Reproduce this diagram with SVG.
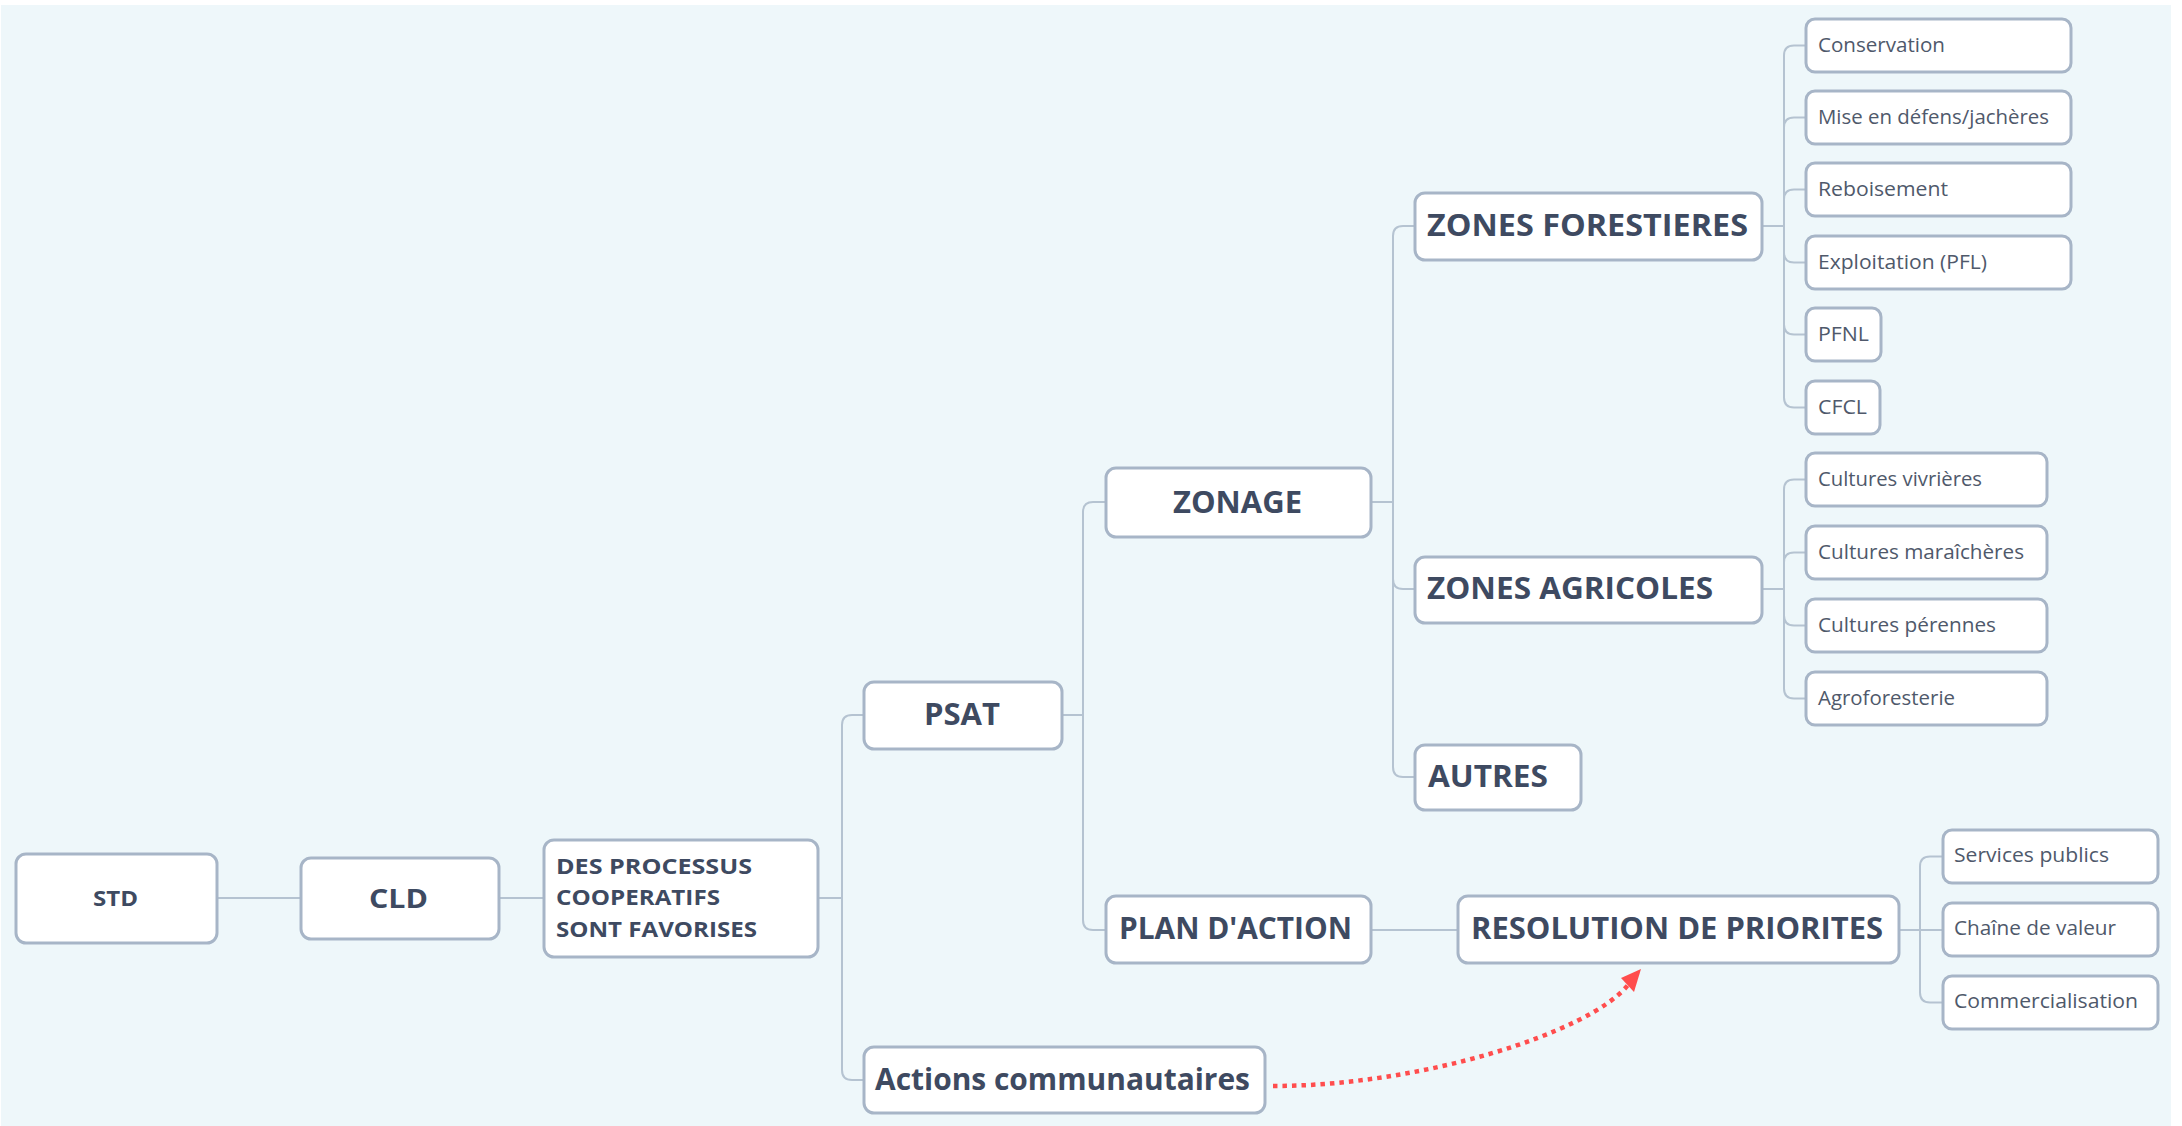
<svg xmlns="http://www.w3.org/2000/svg" width="2182" height="1126" viewBox="0 0 2182 1126">
<defs>
<style>
.bg{fill:#EEF7FA}
.box{fill:#FFFFFF;stroke:#A7B5C7;stroke-width:3}
.conn{fill:none;stroke:#B5C3D1;stroke-width:2}
.t{font-family:"Open Sans","Liberation Sans",sans-serif;font-weight:700;fill:#3E4A61}
.l{font-family:"Open Sans","Liberation Sans",sans-serif;font-weight:400;font-size:20px;fill:#4F596B}
.rel{fill:none;stroke:#FF4D4D;stroke-width:4.5;stroke-dasharray:4.5 5}
</style>
</defs>
<rect x="0" y="0" width="2182" height="1126" fill="#FFFFFF"/>
<rect class="bg" x="1" y="5" width="2170" height="1121"/>

<g id="connectors">
<path class="conn" d="M217,898 H301"/>
<path class="conn" d="M499,898 H544"/>
<path class="conn" d="M818,898 H842 M842,898 V725 Q842,715 852,715 H864 M842,898 V1070 Q842,1080 852,1080 H864"/>
<path class="conn" d="M1062,715 H1083 M1083,715 V512 Q1083,502 1093,502 H1106 M1083,715 V920 Q1083,930 1093,930 H1106"/>
<path class="conn" d="M1371,502 H1393 M1393,502 V236 Q1393,226 1403,226 H1415 M1393,502 V579 Q1393,589 1403,589 H1415 M1393,502 V767 Q1393,777 1403,777 H1415"/>
<path class="conn" d="M1762,226 H1784 M1784,226 V55.5 Q1784,45.5 1794,45.5 H1806 M1784,226 V127.5 Q1784,117.5 1794,117.5 H1806 M1784,226 V199.5 Q1784,189.5 1794,189.5 H1806 M1784,226 V252.5 Q1784,262.5 1794,262.5 H1806 M1784,226 V324.5 Q1784,334.5 1794,334.5 H1806 M1784,226 V397.5 Q1784,407.5 1794,407.5 H1806"/>
<path class="conn" d="M1762,589 H1784 M1784,589 V489.5 Q1784,479.5 1794,479.5 H1806 M1784,589 V562.5 Q1784,552.5 1794,552.5 H1806 M1784,589 V615.5 Q1784,625.5 1794,625.5 H1806 M1784,589 V688.5 Q1784,698.5 1794,698.5 H1806"/>
<path class="conn" d="M1371,930 H1458"/>
<path class="conn" d="M1899,930 H1943 M1920,930 V866.5 Q1920,856.5 1930,856.5 H1943 M1920,930 V992.5 Q1920,1002.5 1930,1002.5 H1943"/>
<path class="rel" d="M1273,1086 C1420,1086 1589,1033 1628,985"/>
<polygon points="1641,969 1621,978 1634,992" fill="#FF4D4D"/>
</g>

<g id="n-std"><rect class="box" x="16" y="854" width="201" height="89" rx="10"/><text class="t" x="93" y="906" font-size="21" textLength="45" lengthAdjust="spacingAndGlyphs">STD</text></g>
<g id="n-cld"><rect class="box" x="301" y="858" width="198" height="81" rx="10"/><text class="t" x="369" y="908" font-size="27" textLength="59" lengthAdjust="spacingAndGlyphs">CLD</text></g>
<g id="n-des"><rect class="box" x="544" y="840" width="274" height="117" rx="10"/>
<text class="t" x="556" y="874" font-size="21" textLength="196" lengthAdjust="spacingAndGlyphs">DES PROCESSUS</text>
<text class="t" x="556" y="905" font-size="21" textLength="164" lengthAdjust="spacingAndGlyphs">COOPERATIFS</text>
<text class="t" x="556" y="937" font-size="21" textLength="201" lengthAdjust="spacingAndGlyphs">SONT FAVORISES</text></g>
<g id="n-psat"><rect class="box" x="864" y="682" width="198" height="67" rx="10"/><text class="t" x="924" y="725" font-size="30" textLength="76" lengthAdjust="spacingAndGlyphs">PSAT</text></g>
<g id="n-actions"><rect class="box" x="864" y="1047" width="401" height="66" rx="10"/><text class="t" x="875" y="1090" font-size="30" textLength="375" lengthAdjust="spacingAndGlyphs">Actions communautaires</text></g>
<g id="n-zonage"><rect class="box" x="1106" y="468" width="265" height="69" rx="10"/><text class="t" x="1173" y="513" font-size="30" textLength="129" lengthAdjust="spacingAndGlyphs">ZONAGE</text></g>
<g id="n-plan"><rect class="box" x="1106" y="896" width="265" height="67" rx="10"/><text class="t" x="1119" y="939" font-size="30" textLength="233" lengthAdjust="spacingAndGlyphs">PLAN D'ACTION</text></g>
<g id="n-zf"><rect class="box" x="1415" y="193" width="347" height="67" rx="10"/><text class="t" x="1427" y="236" font-size="30" textLength="321" lengthAdjust="spacingAndGlyphs">ZONES FORESTIERES</text></g>
<g id="n-za"><rect class="box" x="1415" y="557" width="347" height="66" rx="10"/><text class="t" x="1427" y="599" font-size="30" textLength="286" lengthAdjust="spacingAndGlyphs">ZONES AGRICOLES</text></g>
<g id="n-autres"><rect class="box" x="1415" y="745" width="166" height="65" rx="10"/><text class="t" x="1428" y="787" font-size="30" textLength="120" lengthAdjust="spacingAndGlyphs">AUTRES</text></g>
<g id="n-res"><rect class="box" x="1458" y="896" width="441" height="67" rx="10"/><text class="t" x="1471" y="939" font-size="30" textLength="412" lengthAdjust="spacingAndGlyphs">RESOLUTION DE PRIORITES</text></g>

<g id="n-conservation"><rect class="box" x="1806" y="19" width="265" height="53" rx="9"/><text class="l" x="1818" y="51.5" textLength="127" lengthAdjust="spacingAndGlyphs">Conservation</text></g>
<g id="n-mise"><rect class="box" x="1806" y="91" width="265" height="53" rx="9"/><text class="l" x="1818" y="123.5" textLength="231" lengthAdjust="spacingAndGlyphs">Mise en défens/jachères</text></g>
<g id="n-reboisement"><rect class="box" x="1806" y="163" width="265" height="53" rx="9"/><text class="l" x="1818" y="195.5" textLength="130" lengthAdjust="spacingAndGlyphs">Reboisement</text></g>
<g id="n-exploitation"><rect class="box" x="1806" y="236" width="265" height="53" rx="9"/><text class="l" x="1818" y="268.5" textLength="169" lengthAdjust="spacingAndGlyphs">Exploitation (PFL)</text></g>
<g id="n-pfnl"><rect class="box" x="1806" y="308" width="75" height="53" rx="9"/><text class="l" x="1818" y="340.5" textLength="51" lengthAdjust="spacingAndGlyphs">PFNL</text></g>
<g id="n-cfcl"><rect class="box" x="1806" y="381" width="74" height="53" rx="9"/><text class="l" x="1818" y="413.5" textLength="49" lengthAdjust="spacingAndGlyphs">CFCL</text></g>

<g id="n-vivrieres"><rect class="box" x="1806" y="453" width="241" height="53" rx="9"/><text class="l" x="1818" y="485.5" textLength="164" lengthAdjust="spacingAndGlyphs">Cultures vivrières</text></g>
<g id="n-maraicheres"><rect class="box" x="1806" y="526" width="241" height="53" rx="9"/><text class="l" x="1818" y="558.5" textLength="206" lengthAdjust="spacingAndGlyphs">Cultures maraîchères</text></g>
<g id="n-perennes"><rect class="box" x="1806" y="599" width="241" height="53" rx="9"/><text class="l" x="1818" y="631.5" textLength="178" lengthAdjust="spacingAndGlyphs">Cultures pérennes</text></g>
<g id="n-agro"><rect class="box" x="1806" y="672" width="241" height="53" rx="9"/><text class="l" x="1818" y="704.5" textLength="137" lengthAdjust="spacingAndGlyphs">Agroforesterie</text></g>

<g id="n-services"><rect class="box" x="1943" y="830" width="215" height="53" rx="9"/><text class="l" x="1954" y="862" textLength="155" lengthAdjust="spacingAndGlyphs">Services publics</text></g>
<g id="n-chaine"><rect class="box" x="1943" y="903" width="215" height="53" rx="9"/><text class="l" x="1954" y="935" textLength="162" lengthAdjust="spacingAndGlyphs">Chaîne de valeur</text></g>
<g id="n-commerce"><rect class="box" x="1943" y="976" width="215" height="53" rx="9"/><text class="l" x="1954" y="1008" textLength="184" lengthAdjust="spacingAndGlyphs">Commercialisation</text></g>
</svg>
